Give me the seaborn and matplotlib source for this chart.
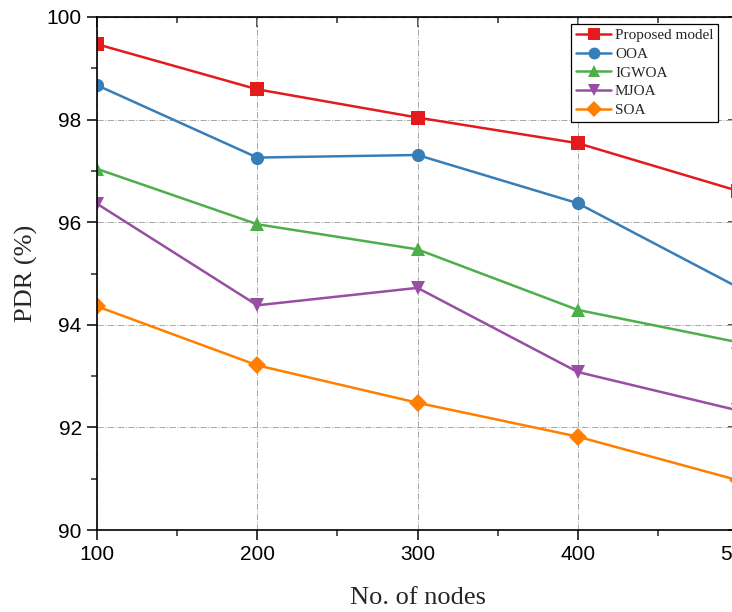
import pandas as pd
import matplotlib.pyplot as plt
import seaborn as sns
from matplotlib.ticker import MultipleLocator

# values
nodes = [100, 200, 300, 400, 500]
proposed = [99.47, 98.59, 98.04, 97.54, 96.61]
ooa = [98.67, 97.26, 97.31, 96.37, 94.73]
igwoa = [97.04, 95.96, 95.47, 94.29, 93.66]
mjoa = [96.36, 94.38, 94.72, 93.08, 92.33]
soa = [94.36, 93.21, 92.48, 91.82, 90.97]

methods = ["Proposed model", "OOA", "IGWOA", "MJOA", "SOA"]
series = [proposed, ooa, igwoa, mjoa, soa]

rows = []
for name, vals in zip(methods, series):
    for n, v in zip(nodes, vals):
        rows.append({"Nodes": n, "PDR": v, "Method": name})
data = pd.DataFrame(rows)

sns.set_style("white")
plt.rcParams["font.family"] = ["Liberation Sans", "DejaVu Sans"]

colors = sns.color_palette("Set1", 5)
palette = dict(zip(methods, colors))
markers = dict(zip(methods, ["s", "o", "^", "v", "D"]))

fig = plt.figure(figsize=(7.32, 6.12), dpi=100)
ax = fig.add_axes([97 / 732, 82 / 612, 641 / 732, 513 / 612])

sns.lineplot(
    data=data, x="Nodes", y="PDR", hue="Method", style="Method",
    palette=palette, markers=markers, dashes=False, markersize=9.5,
    markeredgewidth=0, linewidth=1.8, ax=ax,
)

ax.set_xlim(100, 500)
ax.set_ylim(90, 100)
ax.xaxis.set_major_locator(MultipleLocator(100))
ax.xaxis.set_minor_locator(MultipleLocator(50))
ax.yaxis.set_major_locator(MultipleLocator(2))
ax.yaxis.set_minor_locator(MultipleLocator(1))

ax.grid(True, which="major", color="#a8a8a8", linestyle="-.", linewidth=0.7)
ax.tick_params(which="major", direction="out", length=7.5, width=1.1,
               labelsize=15, colors="black", left=True, bottom=True)
ax.tick_params(which="minor", direction="out", length=4, width=1.1,
               left=True, bottom=True)
for s in ax.spines.values():
    s.set_color("black")
    s.set_linewidth(1.2)

# mirrored ticks on top and right, pointing in
top = ax.secondary_xaxis("top")
top.xaxis.set_major_locator(MultipleLocator(100))
top.xaxis.set_minor_locator(MultipleLocator(50))
top.tick_params(which="major", direction="in", length=7.5, width=1.1, labeltop=False)
top.tick_params(which="minor", direction="in", length=4, width=1.1)
right = ax.secondary_yaxis("right")
right.yaxis.set_major_locator(MultipleLocator(2))
right.yaxis.set_minor_locator(MultipleLocator(1))
right.tick_params(which="major", direction="in", length=7.5, width=1.1, labelright=False)
right.tick_params(which="minor", direction="in", length=4, width=1.1)

ax.set_xlabel("No. of nodes", fontsize=19, family="Liberation Serif", labelpad=16)
ax.set_ylabel("PDR (%)", fontsize=19, family="Liberation Serif", labelpad=6)

leg = ax.legend(
    loc="upper right", bbox_to_anchor=(718 / 732, 1 - 24 / 612),
    bbox_transform=fig.transFigure, frameon=True, fancybox=False,
    edgecolor="black", prop={"family": "Liberation Serif", "size": 11},
    handlelength=2.3, handletextpad=0.25, labelspacing=0.33,
    borderpad=0.3, borderaxespad=0, markerscale=0.9,
)
leg.get_frame().set_linewidth(0.9)
leg.get_frame().set_alpha(1)

plt.savefig("out.png", dpi=100)
